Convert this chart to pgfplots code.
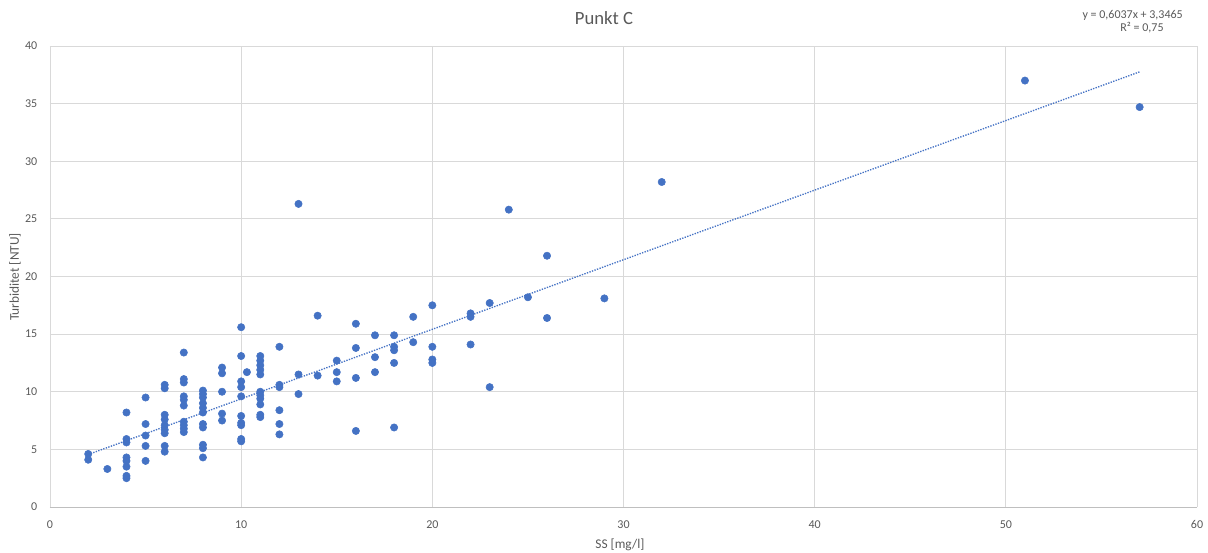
\documentclass[border=0pt]{standalone}
\usepackage{pgfplots}
\pgfplotsset{compat=1.18}
\usepackage{fontspec}
\setmainfont{Carlito}
\definecolor{txt}{HTML}{595959}
\definecolor{grd}{HTML}{D9D9D9}
\definecolor{axl}{HTML}{BFBFBF}
\definecolor{blu}{HTML}{4472C4}
\begin{document}
\begin{tikzpicture}
\path[use as bounding box] (-37.5pt,-34.5pt) rectangle (868.5pt,380.25pt);
\begin{axis}[
  scale only axis,
  width=860.25pt, height=345.75pt,
  xmin=0, xmax=60, ymin=0, ymax=40,
  xtick={0,10,...,60}, ytick={0,5,...,40},
  grid=major,
  major grid style={draw=grd, line width=0.6pt},
  axis x line*=bottom, axis y line*=left,
  x axis line style={draw=axl, line width=0.7pt, -},
  y axis line style={draw=grd, line width=0.6pt, -},
  major tick length=0pt,
  tick label style={font=\fontsize{9}{10}\selectfont, text=txt},
  /pgf/number format/assume math mode=true,
  yticklabel style={xshift=-6pt},
  xticklabel style={yshift=-6.5pt},
  clip=false,
]
\addplot[only marks, mark=*, mark size=2.75pt, mark options={fill=blu, draw=blu}] table {
2 4.6
2 4.1
3 3.3
4 8.2
4 5.9
4 5.6
4 4.3
4 4.0
4 3.5
4 2.7
4 2.5
5 9.5
5 7.2
5 6.2
5 5.3
5 4.0
6 10.6
6 10.3
6 8.0
6 7.6
6 7.1
6 6.7
6 6.4
6 5.3
6 4.8
7 13.4
7 11.1
7 10.8
7 9.6
7 9.3
7 8.8
7 7.4
7 7.1
7 6.8
7 6.5
8 10.1
8 9.8
8 9.5
8 9.0
8 8.6
8 8.2
8 7.2
8 6.9
8 5.4
8 5.1
8 4.3
9 12.1
9 11.6
9 10.0
9 8.1
9 7.5
10 15.6
10 13.1
10 10.9
10 10.4
10 9.6
10 7.9
10 7.3
10 7.1
10 5.9
10 5.7
10.3 11.7
11 13.1
11 12.7
11 12.3
11 11.9
11 11.5
11 10.0
11 9.7
11 9.4
11 8.9
11 8.0
11 7.8
12 13.9
12 10.6
12 10.4
12 8.4
12 7.2
12 6.3
13 26.3
13 11.5
13 9.8
14 16.6
14 11.4
15 12.7
15 11.7
15 10.9
16 15.9
16 13.8
16 11.2
16 6.6
17 14.9
17 13.0
17 11.7
18 14.9
18 13.9
18 13.6
18 12.5
18 6.9
19 16.5
19 14.3
20 17.5
20 13.9
20 12.8
20 12.5
22 16.8
22 16.5
22 14.1
23 17.7
23 10.4
24 25.8
25 18.2
26 21.8
26 16.4
29 18.1
32 28.2
51 37.0
57 34.7
};
\addplot[blu, densely dotted, line width=1pt] table {
2 4.5539
57 37.7574
};
\end{axis}
\node[text=txt, font=\fontsize{14}{16}\selectfont] at (415.5pt,366.4pt) {Punkt C};
\node[text=txt, font=\fontsize{9}{10}\selectfont] at (812pt,369pt) {y = 0,6037x + 3,3465};
\node[text=txt, font=\fontsize{9}{10}\selectfont] at (819pt,359.25pt) {R² = 0,75};
\node[text=txt, font=\fontsize{10}{12}\selectfont] at (427.5pt,-28.5pt) {SS [mg/l]};
\node[text=txt, font=\fontsize{10}{12}\selectfont, rotate=90] at (-26.25pt,172.5pt) {Turbiditet [NTU]};
\end{tikzpicture}
\end{document}
